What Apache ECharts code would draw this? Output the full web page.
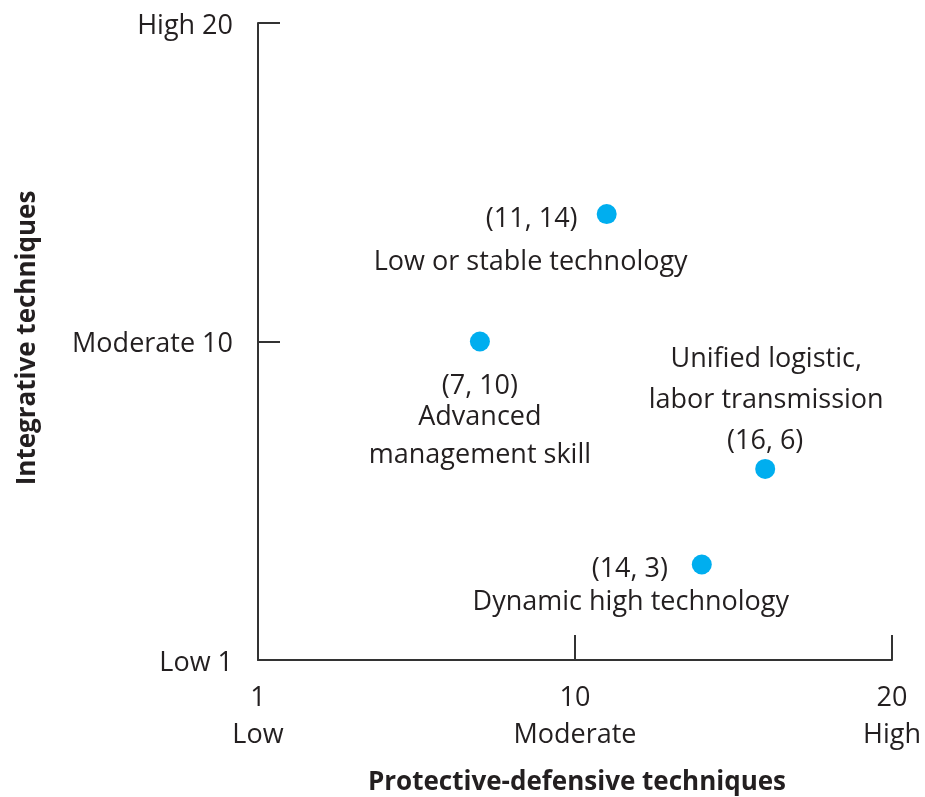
<!DOCTYPE html>
<html><head><meta charset="utf-8">
<script src="https://cdn.jsdelivr.net/npm/echarts@6/dist/echarts.min.js"></script>
<style>html,body{margin:0;padding:0;background:#fff}#c{width:925px;height:797px}</style>
</head><body><div id="c"></div>
<script>
// ---- data ----
const xTicks = [0, 10, 20];
const xTickLabels = ['1\nLow', '10\nModerate', '20\nHigh'];
const yTicks = [0, 10, 20];
const yTickLabels = ['Low 1', 'Moderate 10', 'High 20'];
const pointsX = [11, 7, 16, 14];
const pointsY = [14, 10, 6, 3];
const coordLabels = ['(11, 14)', '(7, 10)', '(16, 6)', '(14, 3)'];
const descLabels = ['Low or stable technology', 'Advanced\nmanagement skill', 'Unified logistic,\nlabor transmission', 'Dynamic high technology'];
const xTitle = 'Protective-defensive techniques';
const yTitle = 'Integrative techniques';

// ---- layout / style ----
const FONT = '"Open Sans", "Liberation Sans", Arial, sans-serif';
const TXT = '#231f20';
const AX = '#333333';
const coordOffsets = [[-75, 5], [0, 45], [0, -28], [-72, 5]];
const descOffsets = [[-76, 48], [0, 95], [1, -89], [-71, 38]];
const descLineHeights = [38, 38, 41, 38];

const chart = echarts.init(document.getElementById('c'), null, {renderer: 'canvas'});

const dotData = pointsX.map((x, i) => ({
  value: [x, pointsY[i]],
  label: {offset: coordOffsets[i], formatter: coordLabels[i]}
}));
const descData = pointsX.map((x, i) => ({
  value: [x, pointsY[i]],
  label: {offset: descOffsets[i], formatter: descLabels[i], lineHeight: descLineHeights[i]}
}));

const labelBase = {
  show: true, position: 'inside', align: 'center', verticalAlign: 'middle',
  color: TXT, fontFamily: FONT, fontSize: 27, opacity: 1
};

chart.setOption({
  animation: false,
  backgroundColor: '#fff',
  grid: {left: 258, right: 33, top: 23, bottom: 137, containLabel: false},
  xAxis: {
    type: 'value', min: 0, max: 20, interval: 10,
    axisLine: {show: true, lineStyle: {color: AX, width: 2}},
    axisTick: {show: true, inside: true, length: 25, lineStyle: {color: AX, width: 2}},
    splitLine: {show: false},
    axisLabel: {
      margin: 20, lineHeight: 37, color: TXT, fontFamily: FONT, fontSize: 27,
      formatter: v => { const k = xTicks.indexOf(v); return k >= 0 ? xTickLabels[k] : ''; }
    }
  },
  yAxis: {
    type: 'value', min: 0, max: 20, interval: 10,
    axisLine: {show: true, lineStyle: {color: AX, width: 2}},
    axisTick: {show: true, inside: true, length: 22, lineStyle: {color: AX, width: 2}},
    splitLine: {show: false},
    axisLabel: {
      margin: 25, color: TXT, fontFamily: FONT, fontSize: 27,
      formatter: v => { const k = yTicks.indexOf(v); return k >= 0 ? '{t|' + yTickLabels[k] + '}' : ''; },
      rich: {t: {color: TXT, fontFamily: FONT, fontSize: 27, padding: [6, 0, 0, 0]}}
    }
  },
  graphic: [
    {type: 'text', x: 577, y: 783, style: {text: xTitle, font: 'bold 26px ' + FONT, fill: TXT, align: 'center', verticalAlign: 'middle'}},
    {type: 'text', x: 28, y: 338, rotation: Math.PI / 2, style: {text: yTitle, font: 'bold 26px ' + FONT, fill: TXT, align: 'center', verticalAlign: 'middle'}}
  ],
  series: [
    {
      type: 'scatter', symbol: 'circle', symbolSize: 20,
      itemStyle: {color: '#00aeef', opacity: 1},
      label: labelBase,
      data: dotData, z: 3
    },
    {
      type: 'scatter', symbolSize: 0,
      itemStyle: {color: 'rgba(0,0,0,0)', opacity: 1},
      label: labelBase,
      data: descData, z: 2, silent: true
    }
  ]
});
</script></body></html>
